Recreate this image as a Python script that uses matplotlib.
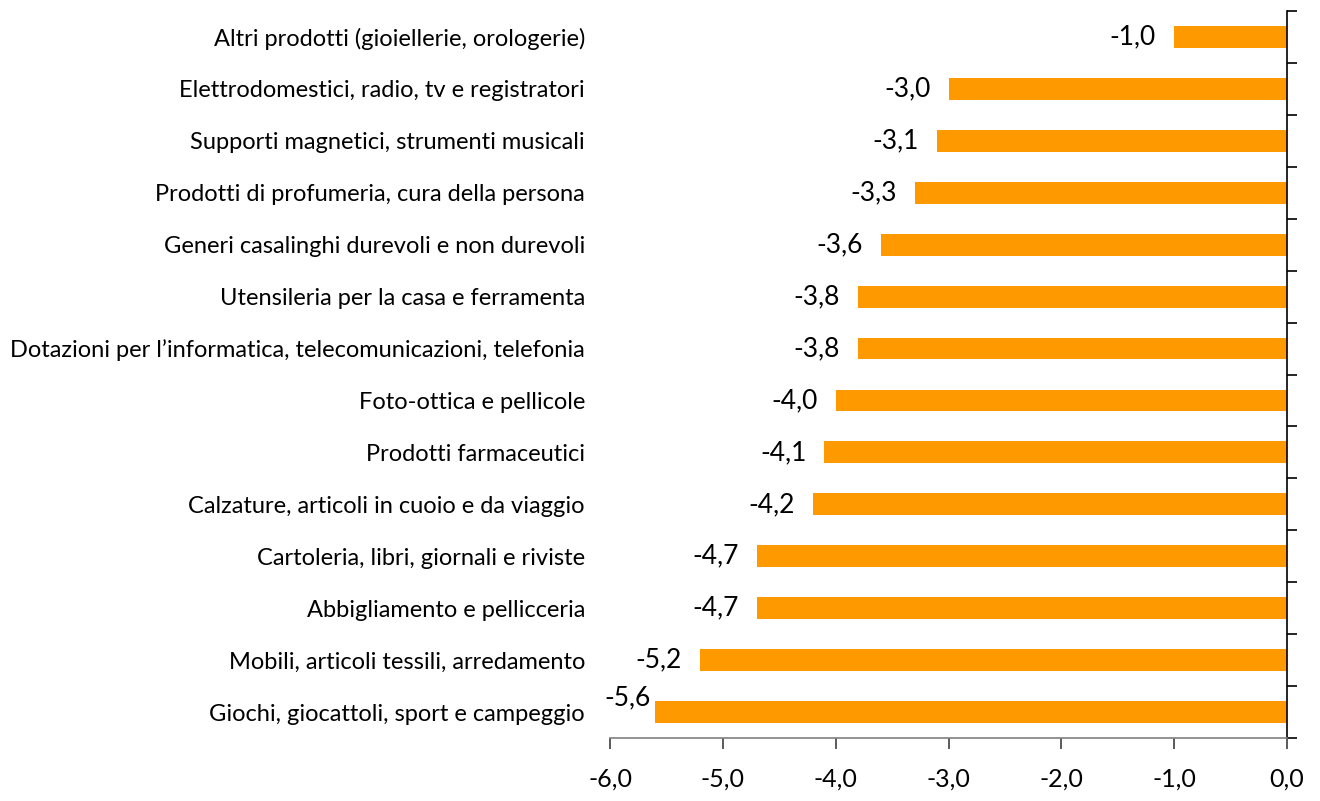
import numpy as np
import matplotlib.pyplot as plt

categories = [
    "Altri prodotti (gioiellerie, orologerie)",
    "Elettrodomestici, radio, tv e registratori",
    "Supporti magnetici, strumenti musicali",
    "Prodotti di profumeria, cura della persona",
    "Generi casalinghi durevoli e non durevoli",
    "Utensileria per la casa e ferramenta",
    "Dotazioni per l\u2019informatica, telecomunicazioni, telefonia",
    "Foto-ottica e pellicole",
    "Prodotti farmaceutici",
    "Calzature, articoli in cuoio e da viaggio",
    "Cartoleria, libri, giornali e riviste",
    "Abbigliamento e pellicceria",
    "Mobili, articoli tessili, arredamento",
    "Giochi, giocattoli, sport e campeggio",
]
values = [-1.0, -3.0, -3.1, -3.3, -3.6, -3.8, -3.8, -4.0, -4.1, -4.2, -4.7, -4.7, -5.2, -5.6]
xticks = [-6, -5, -4, -3, -2, -1, 0]

plt.rcParams['font.family'] = ['Lato', 'DejaVu Sans']

fig = plt.figure(figsize=(13.2, 8.01), dpi=100)
ax = fig.add_axes([610 / 1320, 1 - 738 / 801, (1287 - 610) / 1320, (738 - 11) / 801])

y = np.arange(len(categories))
ax.barh(y, values, height=0.42, color='#FF9900')
ax.set_ylim(len(categories) - 0.5, -0.5)
ax.set_xlim(-6, 0)

ax.set_xticks(xticks)
ax.set_xticklabels([f"{v:.1f}".replace('.', ',') for v in xticks], fontsize=18)
ax.tick_params(axis='x', direction='out', length=8, width=1.2, color='#404040', pad=13)

ax.set_yticks(y)
ax.set_yticklabels(categories, fontsize=17)
ax.tick_params(axis='y', which='major', length=0, pad=18)

# right axis at zero with boundary ticks
ax.set_yticks(np.arange(len(categories) + 1) - 0.5, minor=True)
ax.tick_params(axis='y', which='minor', left=False, right=True, direction='out',
               length=7, width=1.2, color='black')

for s in ['top', 'left']:
    ax.spines[s].set_visible(False)
ax.spines['right'].set_linewidth(1.2)
ax.spines['bottom'].set_color('#808080')
ax.spines['bottom'].set_linewidth(1.2)

for yi, v in zip(y, values):
    txt = f"{v:.1f}".replace('.', ',')
    if v < -5.4:
        ax.annotate(txt, (v, yi), xytext=(-20, 10), textcoords='offset points',
                    ha='center', va='center', fontsize=19, annotation_clip=False)
    else:
        ax.annotate(txt, (v, yi), xytext=(-13, 0), textcoords='offset points',
                    ha='right', va='center', fontsize=19)

fig.savefig('out.png', dpi=100)
